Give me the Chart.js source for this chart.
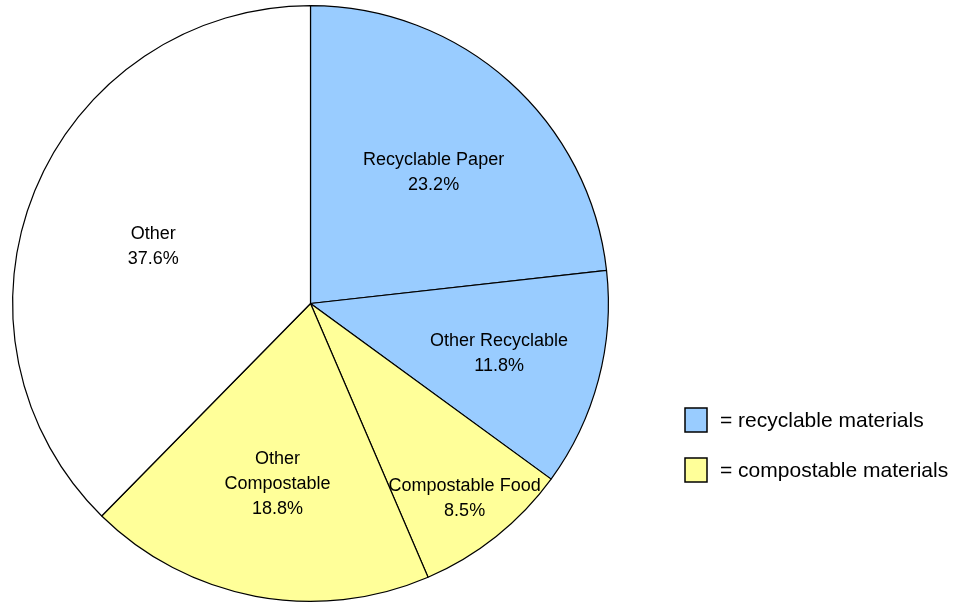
<!DOCTYPE html>
<html>
<head>
<meta charset="utf-8">
<script src="https://cdn.jsdelivr.net/npm/chart.js@4.4.0/dist/chart.umd.min.js"></script>
<style>
html,body{margin:0;padding:0;background:#fff;}
#wrap{position:relative;width:963px;height:603px;}
</style>
</head>
<body>
<div id="wrap"><canvas id="c" width="963" height="603"></canvas></div>
<script>
const categories = ["Recyclable Paper", "Other Recyclable", "Compostable Food", "Other Compostable", "Other"];
const labelLines = [["Recyclable Paper"], ["Other Recyclable"], ["Compostable Food"], ["Other", "Compostable"], ["Other"]];
const values = [23.2, 11.8, 8.5, 18.8, 37.6];
const groups = ["recyclable", "recyclable", "compostable", "compostable", "other"];
const legendLabels = ["= recyclable materials", "= compostable materials"];

const COLORS = {recyclable: "#99CCFF", compostable: "#FFFF99", other: "#FFFFFF"};
const LABEL_FONT = "18px 'Liberation Sans', Arial, sans-serif";
const LEGEND_FONT = "21px 'Liberation Sans', Arial, sans-serif";

const labelPlugin = {
  id: "sliceLabels",
  afterDatasetsDraw(chart, args, opts) {
    const ctx = chart.ctx;
    const meta = chart.getDatasetMeta(0);
    ctx.save();
    ctx.font = LABEL_FONT;
    ctx.fillStyle = "#000";
    ctx.textAlign = "center";
    ctx.textBaseline = "middle";
    meta.data.forEach((arc, i) => {
      const p = arc.getProps(["x", "y", "startAngle", "endAngle", "outerRadius"], true);
      const mid = (p.startAngle + p.endAngle) / 2;
      const d = p.outerRadius * opts.dist[i];
      const cx = p.x + Math.cos(mid) * d;
      const cy = p.y + Math.sin(mid) * d + opts.shift[i];
      const lines = labelLines[i].concat([values[i].toFixed(1) + "%"]);
      const lh = 25;
      const y0 = cy - (lines.length - 1) * lh / 2;
      lines.forEach((t, k) => ctx.fillText(t, cx, y0 + k * lh));
    });
    ctx.restore();
  }
};

const legendPlugin = {
  id: "sideLegend",
  afterDraw(chart, args, opts) {
    const ctx = chart.ctx;
    ctx.save();
    ctx.font = LEGEND_FONT;
    ctx.textBaseline = "middle";
    ctx.textAlign = "left";
    legendLabels.forEach((t, i) => {
      const y = opts.y + i * opts.gap;
      ctx.fillStyle = i === 0 ? COLORS.recyclable : COLORS.compostable;
      ctx.fillRect(opts.x, y - 12, 22, 24);
      ctx.strokeStyle = "#000";
      ctx.lineWidth = 1.5;
      ctx.strokeRect(opts.x, y - 12, 22, 24);
      ctx.fillStyle = "#000";
      ctx.fillText(t, opts.x + 35, y + 1.5);
    });
    ctx.restore();
  }
};

new Chart(document.getElementById("c"), {
  type: "pie",
  data: {
    labels: categories,
    datasets: [{
      data: values,
      backgroundColor: groups.map(g => COLORS[g]),
      borderColor: "#000",
      borderWidth: 1.2,
      borderAlign: "center"
    }]
  },
  options: {
    responsive: false,
    animation: false,
    layout: {padding: {left: 12, top: 5, bottom: 1, right: 354}},
    plugins: {
      legend: {display: false},
      tooltip: {enabled: false},
      sliceLabels: {dist: [0.62, 0.655, 0.83, 0.6, 0.57], shift: [6.5, 0, 2, 5, 7]},
      sideLegend: {x: 685, y: 420, gap: 50}
    }
  },
  plugins: [labelPlugin, legendPlugin]
});
</script>
</body>
</html>
